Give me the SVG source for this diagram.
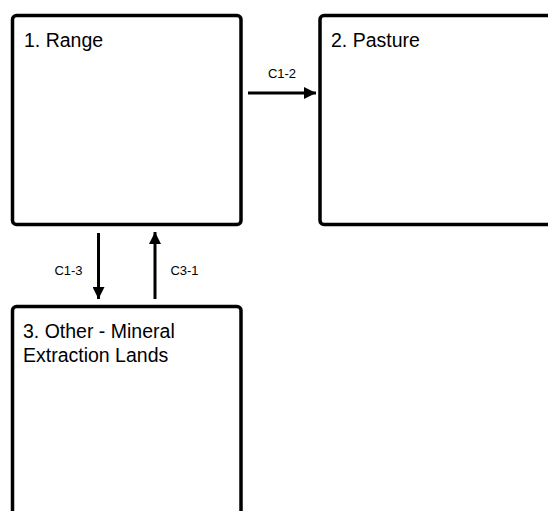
<svg xmlns="http://www.w3.org/2000/svg" width="548" height="511" viewBox="0 0 548 511">
<style>
.box{fill:#fff;stroke:#000;stroke-width:3.5}
.t{font-family:"Liberation Sans",Arial,sans-serif;font-size:19.5px;fill:#000}
.l{font-family:"Liberation Sans",Arial,sans-serif;font-size:13px;fill:#000;text-anchor:middle}
.c{stroke:#000;stroke-width:3;fill:none}
</style>
<defs>
<marker id="ah" viewBox="0 0 10 10" refX="10" refY="5" markerWidth="4" markerHeight="4" orient="auto" markerUnits="strokeWidth">
<path d="M0,0L10,5L0,10z" fill="#000"/>
</marker>
</defs>
<rect width="548" height="511" fill="#fff"/>
<g id="node1">
<rect class="box" x="12.5" y="15.5" width="228.5" height="209" rx="4"/>
<text class="t" x="24" y="47">1. Range</text>
</g>
<g id="node2">
<rect class="box" x="320" y="15.5" width="240" height="209" rx="4"/>
<text class="t" x="331" y="47">2. Pasture</text>
</g>
<g id="node3">
<rect class="box" x="12.5" y="306.5" width="228.5" height="230" rx="4"/>
<text class="t" x="23" y="338">3. Other - Mineral</text>
<text class="t" x="23" y="362">Extraction Lands</text>
</g>
<g id="connectors">
<line class="c" x1="248" y1="93" x2="316" y2="93" marker-end="url(#ah)"/>
<text class="l" x="282" y="78">C1-2</text>
<line class="c" x1="98.5" y1="233" x2="98.5" y2="299" marker-end="url(#ah)"/>
<text class="l" x="68.5" y="275">C1-3</text>
<line class="c" x1="155" y1="299" x2="155" y2="232" marker-end="url(#ah)"/>
<text class="l" x="184.5" y="275">C3-1</text>
</g>
</svg>
